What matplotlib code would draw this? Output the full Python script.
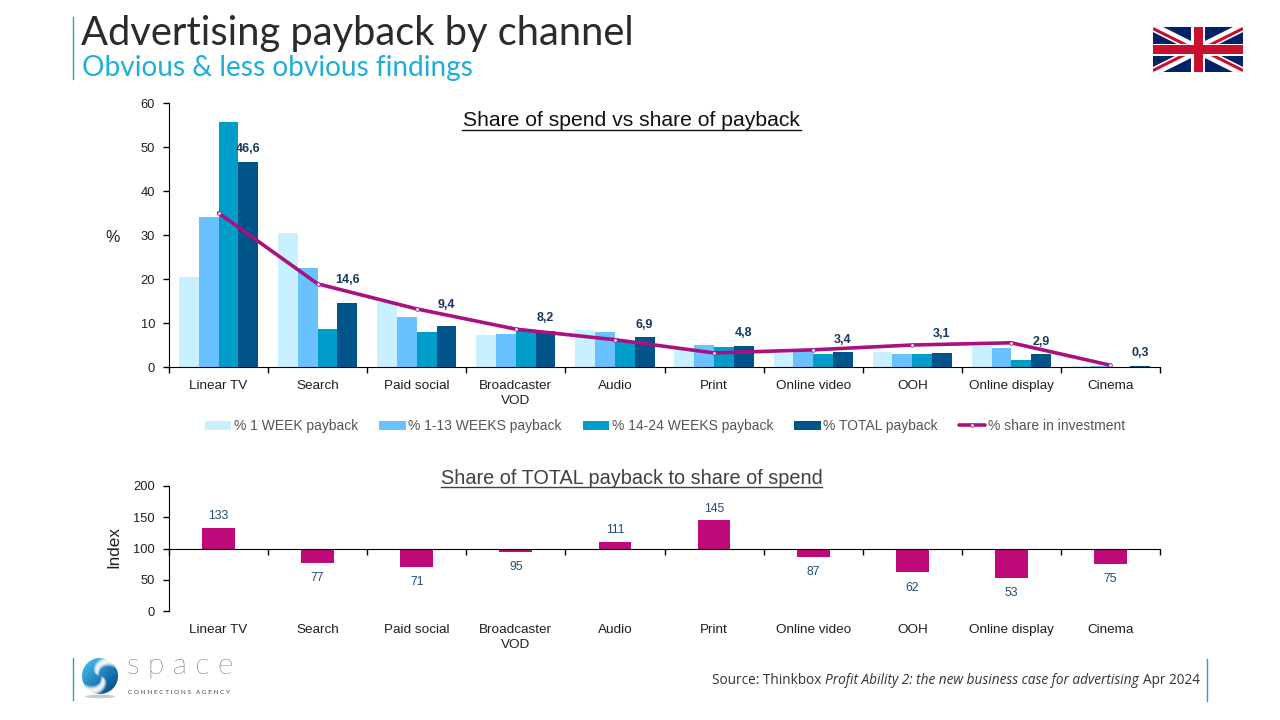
"""
Advertising payback by channel, share of spend vs share of payback.
"""

import numpy as np
import matplotlib
matplotlib.use("Agg")
import matplotlib.pyplot as plt
from matplotlib.patches import Circle, Ellipse, Rectangle
from matplotlib.lines import Line2D

plt.rcParams["font.family"] = ["Liberation Sans", "DejaVu Sans"]

channels = ["Linear TV", "Search", "Paid social", "Broadcaster\nVOD", "Audio", "Print",
            "Online video", "OOH", "Online display", "Cinema"]
week_1 = [20.5, 30.5, 14.8, 7.3, 8.5, 4.1, 3.2, 3.3, 4.8, 0.15]
weeks_1_13 = [34.0, 22.6, 11.4, 7.6, 8.0, 4.9, 3.6, 3.0, 4.4, 0.25]
weeks_14_24 = [55.7, 8.7, 8.0, 8.3, 5.8, 4.6, 3.0, 3.0, 1.7, 0.0]
total_payback = [46.6, 14.6, 9.4, 8.2, 6.9, 4.8, 3.4, 3.1, 2.9, 0.3]
share_investment = [35.0, 18.9, 13.2, 8.6, 6.2, 3.2, 3.9, 5.0, 5.5, 0.4]
payback_index = [133, 77, 71, 95, 111, 145, 87, 62, 53, 75]

series_names = ["% 1 WEEK payback", "% 1-13 WEEKS payback", "% 14-24 WEEKS payback", "% TOTAL payback"]
series_colors = ["#C8F0FF", "#69C2FF", "#009DCB", "#00548A"]
total_label_lift = [9.4, 16.4, 14.8, 9.3, 8.4, 9.3, 8.6, 14, 8.8, 9.1]

LINE_COLOR = "#A9117F"
BAR_COLOR = "#BE0A78"
TEAL = "#2A9FC0"
TEXT = "#1F1F1F"
HEADING_FONT = ["Lato", "DejaVu Sans"]
SOURCE_FONT = ["Open Sans", "DejaVu Sans"]


def px_axes(fig, left, top, right, bottom):
    return fig.add_axes([left / 1280, 1 - bottom / 720, (right - left) / 1280, (bottom - top) / 720])


def style_axis(ax, label_pad):
    ax.set_xlim(-0.5, 9.5)
    ax.set_xticks(np.arange(-0.5, 10, 1))
    ax.set_xticklabels([])
    ax.set_xticks(x, minor=True)
    ax.set_xticklabels(channels, minor=True, fontsize=9.7, color=TEXT, linespacing=1.35, va="top")
    ax.tick_params(axis="x", which="major", length=4, width=1, direction="out")
    ax.tick_params(axis="x", which="minor", length=0, pad=label_pad)
    ax.tick_params(axis="y", length=4, width=1, labelsize=9.3, labelcolor=TEXT, pad=6)
    ax.spines[["top", "right"]].set_visible(False)
    ax.patch.set_alpha(0)
    # the y descender pushes this one label down a little
    ax.xaxis.get_minor_ticks()[8].set_pad(label_pad - 0.4)


fig = plt.figure(figsize=(12.8, 7.2), dpi=100)
x = np.arange(len(channels))
bar_w = 0.2

# top chart
ax = px_axes(fig, 169, 103, 1160, 367)
for i, (vals, name, color) in enumerate(zip([week_1, weeks_1_13, weeks_14_24, total_payback], series_names, series_colors)):
    ax.bar(x + (i - 1.5) * bar_w, vals, bar_w, color=color, label=name)
ax.plot(x, share_investment, color=LINE_COLOR, lw=2.6, marker="o", ms=2.6, mfc="white", mec=LINE_COLOR,
        mew=0.6, solid_capstyle="round", label="% share in investment")
for i, val in enumerate(total_payback):
    ax.annotate(f"{val:.1f}".replace(".", ","), (x[i] + 1.5 * bar_w, val), xytext=(0, total_label_lift[i]),
                textcoords="offset points", ha="center", va="center", fontsize=9, fontweight="bold", color="#17375E")
ax.set_ylim(0, 60)
ax.set_yticks(range(0, 61, 10))
style_axis(ax, 9.4)

handles, labels = ax.get_legend_handles_labels()
handles = handles[1:] + handles[:1]
labels = labels[1:] + labels[:1]
fig.legend(handles, labels, ncol=5, loc="center", bbox_to_anchor=(665 / 1280, 1 - 426 / 720), frameon=False,
           fontsize=10, labelcolor="#555555", handlelength=1.9, handleheight=0.6, handletextpad=0.2,
           columnspacing=1.5, borderpad=0)

# bottom chart
ax2 = px_axes(fig, 169, 486, 1160, 611)
ax2.bar(x, [v - 100 for v in payback_index], 0.33, bottom=100, color=BAR_COLOR)
for i, val in enumerate(payback_index):
    lift = 8.5 if val > 100 else -11
    ax2.annotate(str(val), (x[i], val), xytext=(0, lift), textcoords="offset points", ha="center", va="center",
                 fontsize=8.8, color="#1F4E79")
ax2.set_ylim(0, 200)
ax2.set_yticks(range(0, 201, 50))
ax2.spines["bottom"].set_position(("data", 100))
style_axis(ax2, 54.4)

# overlay in reference pixels for titles and decoration
over = fig.add_axes([0, 0, 1, 1], zorder=5)
over.set_xlim(0, 1280)
over.set_ylim(720, 0)
over.patch.set_alpha(0)
over.axis("off")

over.text(81, 34, "Advertising payback by channel", fontsize=28.7, family=HEADING_FONT,
          color="#2B2B2B", va="center")
over.text(82, 68, "Obvious & less obvious findings", fontsize=20.2, family=HEADING_FONT,
          color="#1EAEDB", va="center")
over.plot([73, 73], [17, 79], color=TEAL, lw=1)
over.plot([73, 73], [658, 700], color=TEAL, lw=1)
over.plot([1207, 1207], [659, 701], color=TEAL, lw=1)

over.text(113, 237, "%", fontsize=11.5, ha="center", va="center", color=TEXT)
over.text(114, 547, "Index", fontsize=12.3, rotation=90, ha="center", va="center", color=TEXT)

over.text(631.5, 120.5, "Share of spend vs share of payback", fontsize=15.2, ha="center", va="center", color="#111111")
over.plot([462, 801], [129.5, 129.5], color="#111111", lw=1)
over.text(631.5, 478, "Share of TOTAL payback to share of spend", fontsize=14.3, ha="center", va="center", color="#404040")
over.plot([441, 822], [486.5, 486.5], color="#404040", lw=1)

# source line, three pieces chained left to right
source_parts = [("Source: Thinkbox", "normal", 4), ("Profit Ability 2: the new business case for advertising", "italic", 4),
                ("Apr 2024", "normal", 0)]
renderer = fig.canvas.get_renderer()
cursor = 712.0
for part, style, gap in source_parts:
    t = over.text(cursor, 680.5, part, fontsize=9.8, style=style, family=SOURCE_FONT, color="#333333", va="center")
    cursor = t.get_window_extent(renderer).x1 + gap

# logo
over.add_patch(Ellipse((100, 696.5), 30, 3.5, fc="#C9C9C9", ec="none", zorder=2))
gx, gy = np.meshgrid(np.linspace(-1, 1, 160), np.linspace(-1, 1, 160))
r = np.hypot(gx, gy)
theta = np.arctan2(gy, gx)
depth = np.clip((gx + gy + 1.4) / 2.8, 0, 1)[..., None]
blue = (1 - depth) * np.array([0.24, 0.70, 0.90]) + depth * np.array([0.03, 0.33, 0.58])
arms = np.clip(1.6 * np.sin(2 * theta - 3.4 * r + 0.6) - 0.55, 0, 1) * np.clip(r * 4, 0, 1)
sphere = blue * (1 - arms[..., None] * 0.92) + 0.92 * arms[..., None]
img = over.imshow(sphere, extent=(82, 118, 694, 658), zorder=3, aspect="auto")
img.set_clip_path(Circle((100, 676), 18, transform=over.transData))
over.text(127, 674, "s p a c e", fontsize=21.5, fontweight="light", family=HEADING_FONT, color="#111111", va="baseline")
over.text(128, 692, "C O N N E C T I O N S   A G E N C Y", fontsize=4.65, family=HEADING_FONT, color="#444444", va="center")

# flag
flag = px_axes(fig, 1153, 27, 1243, 72)
flag.set_xlim(0, 60)
flag.set_ylim(0, 30)
flag.axis("off")
flag.add_patch(Rectangle((0, 0), 60, 30, fc="#012169", ec="none", zorder=1))
for xs, ys in [([0, 60], [0, 30]), ([0, 60], [30, 0])]:
    flag.add_line(Line2D(xs, ys, color="white", lw=6.5, solid_capstyle="butt", zorder=2))
# red diagonals sit off centre in each quarter
for xs, ys in [([0, 30], [29, 14]), ([30, 60], [14, 29]), ([0, 30], [1, 16]), ([30, 60], [16, 1])]:
    flag.add_line(Line2D(xs, ys, color="#C8102E", lw=2.2, solid_capstyle="butt", zorder=3))
flag.add_patch(Rectangle((25.3, 0), 9.4, 30, fc="white", ec="none", zorder=4))
flag.add_patch(Rectangle((0, 11), 60, 8, fc="white", ec="none", zorder=4))
flag.add_patch(Rectangle((27, 0), 6, 30, fc="#C8102E", ec="none", zorder=5))
flag.add_patch(Rectangle((0, 12.3), 60, 5.4, fc="#C8102E", ec="none", zorder=5))

fig.savefig("out.png", dpi=100)
